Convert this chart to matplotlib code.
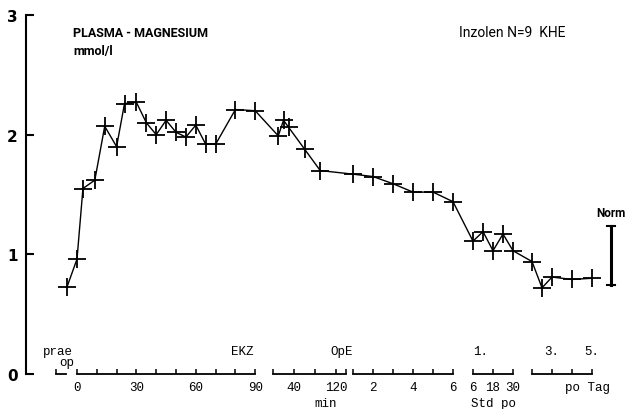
import numpy as np
import matplotlib
matplotlib.use("Agg")
import matplotlib.pyplot as plt

# plasma magnesium (mmol/l) per time segment of the broken time axis
pre_t = [0]
pre_mg = [0.73]
ekz_t = [0, 3, 9, 14, 20, 24, 30, 35, 40, 45, 50, 55, 60, 65, 70, 80, 90]      # min EKZ
ekz_mg = [0.96, 1.55, 1.62, 2.07, 1.90, 2.26, 2.27, 2.10, 2.00, 2.12, 2.02,
          1.98, 2.08, 1.92, 1.92, 2.21, 2.20]
ope_t = [10, 20, 30, 60, 90]                                                    # min after OpE
ope_mg = [1.99, 2.12, 2.06, 1.88, 1.70]
std_t = [1, 2, 3, 4, 5, 6]                                                      # hours
std_mg = [1.67, 1.65, 1.59, 1.52, 1.52, 1.44]
stdpo_t = [6, 12, 18, 24, 30]                                                   # Std po
stdpo_mg = [1.11, 1.19, 1.03, 1.17, 1.03]
tag_t = [2, 2.5, 3, 4, 5]                                                       # po Tag
tag_mg = [0.94, 0.72, 0.81, 0.79, 0.80]

norm_range = [0.74, 1.24]

# axis segments: (position of t0, t0, axis units per time unit)
SEGMENTS = {
    "pre": (-5.0, 0, 1.0),
    "ekz": (0.0, 0, 1.0),
    "ope": (99.0, 0, 0.265),
    "std": (139.4, 1, 10.1),
    "stdpo": (200.0, 6, 0.842),
    "tag": (229.8, 2, 10.1),
}

# tick positions of each segment (first and last are the bracket ends)
ekz_ticks = [0, 10, 20, 30, 40, 50, 60, 70, 80, 90]
ope_ticks = [0, 40, 80, 120, 140]
std_ticks = [1, 2, 3, 4, 5, 6]
stdpo_ticks = [6, 18, 30]
tag_ticks = [2, 3, 4, 5]

ekz_labels = {0: "0", 30: "30", 60: "60", 90: "90"}
ope_labels = {40: "40", 120: "120"}
std_labels = {2: "2", 4: "4", 6: "6"}
stdpo_labels = {6: "6", 18: "18", 30: "30"}

MONO = "Liberation Mono"
NARROW = ["Roboto", "DejaVu Sans"]


def pos(seg, t):
    x0, t0, k = SEGMENTS[seg]
    return x0 + (np.asarray(t, dtype=float) - t0) * k


def draw_bracket(ax, xs, tick_h=0.04):
    ax.plot([xs[0], xs[-1]], [0, 0], color="black", lw=1.3, clip_on=False)
    ax.vlines(xs, 0, tick_h, color="black", lw=1.1, clip_on=False)


fig = plt.figure(figsize=(6.27, 4.10), dpi=100)
ax = fig.add_axes([26 / 627, 35 / 410, 601 / 627, 359 / 410])
ax.set_xlim((26 - 77) / 1.98, (627 - 77) / 1.98)
ax.set_ylim(0, 3)

xs = np.concatenate([pos("pre", pre_t), pos("ekz", ekz_t), pos("ope", ope_t),
                     pos("std", std_t), pos("stdpo", stdpo_t), pos("tag", tag_t)])
ys = np.concatenate([pre_mg, ekz_mg, ope_mg, std_mg, stdpo_mg, tag_mg])
ax.plot(xs, ys, color="black", lw=1.0, marker="+", markersize=13,
        markeredgewidth=1.3)

# Norm bar
nx = 269.7
ax.plot([nx, nx], norm_range, color="black", lw=2.2)
ax.plot([nx - 2, nx + 2], [norm_range[0]] * 2, color="black", lw=1.5)
ax.plot([nx - 2, nx + 2], [norm_range[1]] * 2, color="black", lw=1.5)
ax.text(nx, 1.35, "Norm", ha="center", va="center", fontsize=8.5,
        fontweight="bold", family=NARROW)

# spines / y ticks
for s in ["top", "right", "bottom"]:
    ax.spines[s].set_visible(False)
ax.spines["left"].set_linewidth(1.5)
ax.set_xticks([])
ax.set_yticks([0, 1, 2, 3])
ax.set_yticklabels(["0", "1", "2", "3"], fontsize=11, fontweight="bold")
ax.tick_params(axis="y", direction="in", length=6, width=1.5, pad=6)

# broken time axis
pre_x = [-10.6, -5.6]
ax.plot(pre_x, [0, 0], color="black", lw=1.3, clip_on=False)
ax.vlines(pre_x[0], 0, 0.04, color="black", lw=1.1, clip_on=False)
draw_bracket(ax, pos("ekz", ekz_ticks))
draw_bracket(ax, pos("ope", ope_ticks))
draw_bracket(ax, pos("std", std_ticks))
draw_bracket(ax, pos("stdpo", stdpo_ticks))
draw_bracket(ax, pos("tag", tag_ticks))

lab_y = -0.11
for seg, labels in [("ekz", ekz_labels), ("ope", ope_labels),
                    ("std", std_labels), ("stdpo", stdpo_labels)]:
    for t, s in labels.items():
        ax.text(pos(seg, t), lab_y, s, ha="center", va="center",
                fontsize=9, family=MONO, clip_on=False)

ax.text(pos("tag", 4.8), lab_y, "po Tag", ha="center", va="center",
        fontsize=9, family=MONO)
ax.text(pos("ope", 100), -0.245, "min", ha="center", va="center",
        fontsize=9, family=MONO)
ax.text(pos("stdpo", 18), -0.245, "Std po", ha="center", va="center",
        fontsize=9, family=MONO)

top_y = 0.19
ax.text(-9.5, top_y, "prae", ha="center", va="center", fontsize=9, family=MONO)
ax.text(-5.0, 0.1, "op", ha="center", va="center", fontsize=9, family=MONO)
ax.text(83.5, top_y, "EKZ", ha="center", va="center", fontsize=9, family=MONO)
ax.text(133.5, top_y, "OpE", ha="center", va="center", fontsize=9, family=MONO)
ax.text(pos("stdpo", 6), top_y, "1.", ha="left", va="center", fontsize=9, family=MONO)
ax.text(pos("tag", 3), top_y, "3.", ha="center", va="center", fontsize=9, family=MONO)
ax.text(pos("tag", 5), top_y, "5.", ha="center", va="center", fontsize=9, family=MONO)

# headings
ax.text(-2.0, 2.857, "PLASMA - MAGNESIUM", ha="left", va="center",
        fontsize=9, fontweight="bold", family=NARROW)
ax.text(-2.0, 2.70, "mmol/l", ha="left", va="center",
        fontsize=9, fontweight="bold", family=NARROW)
ax.text(193.0, 2.857, "Inzolen N=9  KHE", ha="left", va="center",
        fontsize=10, family=NARROW)

fig.savefig("out.png", dpi=100)
